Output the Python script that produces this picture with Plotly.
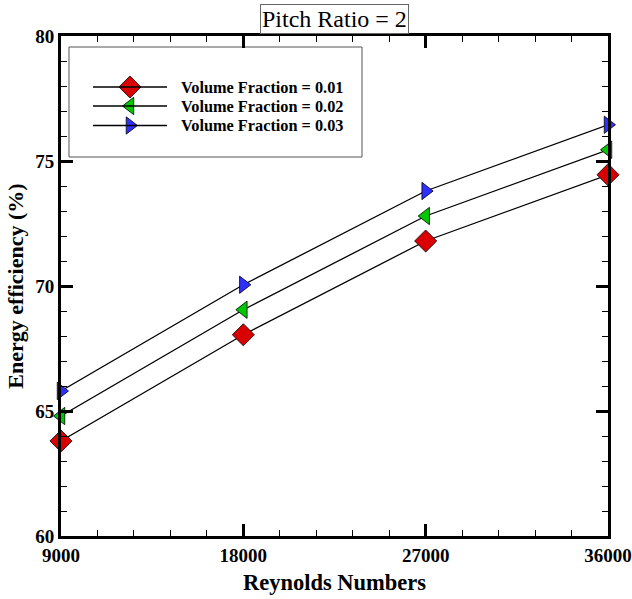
import plotly.graph_objects as go

reynolds = [9000, 18000, 27000, 36000]
vf_labels = ["Volume Fraction = 0.01", "Volume Fraction = 0.02", "Volume Fraction = 0.03"]
eff_001 = [63.8, 68.05, 71.8, 74.45]
eff_002 = [64.8, 69.05, 72.8, 75.45]
eff_003 = [65.8, 70.05, 73.8, 76.45]
x_ticks = [9000, 18000, 27000, 36000]
y_ticks = [60, 65, 70, 75, 80]

series = [eff_001, eff_002, eff_003]
colors = ["#d80000", "#00c800", "#2f2fff"]
symbols = ["diamond", "triangle-left", "triangle-right"]
sizes = [17, 15, 15]

FONT = "'Liberation Serif', 'Times New Roman', Times, serif"
fig = go.Figure()

for vals, c, s, sz, name in zip(series, colors, symbols, sizes, vf_labels):
    fig.add_trace(go.Scatter(
        x=reynolds, y=vals, mode="lines+markers", name=name, showlegend=False,
        line=dict(color="black", width=1.3),
        marker=dict(color=c, symbol=s, size=sz, line=dict(color="black", width=0.8)),
        cliponaxis=False,
    ))

# manual legend (on a hidden 0..1 overlay axis)
legend_rows = [0.898, 0.86, 0.821]
fig.add_shape(type="rect", xref="paper", yref="paper", x0=0.0146, x1=0.5503, y0=0.758, y1=0.978,
              line=dict(color="#555555", width=1), fillcolor="white", layer="below")
for row, c, s, sz, name in zip(legend_rows, colors, symbols, sizes, vf_labels):
    fig.add_shape(type="line", xref="paper", yref="paper", x0=0.0585, x1=0.1938, y0=row, y1=row,
                  line=dict(color="black", width=1.3))
    fig.add_trace(go.Scatter(
        x=[0.1261], y=[row], xaxis="x2", yaxis="y2", mode="markers", showlegend=False,
        marker=dict(color=c, symbol=s, size=sz, line=dict(color="black", width=0.8)),
        hoverinfo="skip",
    ))
    fig.add_annotation(text="<b>" + name + "</b>", xref="paper", yref="paper", x=0.2155, y=row,
                       xanchor="left", yanchor="middle", showarrow=False,
                       font=dict(family=FONT, size=16.3, color="black"))

fig.add_annotation(text="Pitch Ratio = 2", xref="paper", yref="paper", x=0.5, y=1.034,
                   xanchor="center", yanchor="middle", showarrow=False,
                   font=dict(family=FONT, size=24, color="black"),
                   bordercolor="#666666", borderwidth=1, borderpad=1, bgcolor="white")

axis_common = dict(
    showgrid=False, zeroline=False, showline=True, linecolor="black", linewidth=3,
    mirror="allticks", ticks="inside", ticklen=12, tickwidth=2.5, tickcolor="black",
    tickfont=dict(family=FONT, size=19, color="black"), automargin=False,
)

fig.update_layout(
    width=632, height=599,
    margin=dict(l=61, r=24, t=36, b=63),
    paper_bgcolor="white", plot_bgcolor="white",
    xaxis=dict(range=[9000, 36000], tickvals=x_ticks, ticktext=["<b>%d</b>" % v for v in x_ticks],
               minor=dict(dtick=1800, tick0=9000, ticks="inside", ticklen=6, tickwidth=1, tickcolor="black"),
               title=dict(text="<b>Reynolds Numbers</b>", font=dict(family=FONT, size=22.5, color="black"), standoff=10),
               **axis_common),
    yaxis=dict(range=[60, 80], tickvals=y_ticks, ticktext=["<b>%d</b>" % v for v in y_ticks],
               minor=dict(dtick=1, tick0=60, ticks="inside", ticklen=6, tickwidth=1, tickcolor="black"),
               title=dict(text="<b>Energy efficiency (%)</b>", font=dict(family=FONT, size=22, color="black"), standoff=6),
               **axis_common),
    xaxis2=dict(range=[0, 1], overlaying="x", visible=False),
    yaxis2=dict(range=[0, 1], overlaying="y", visible=False),
)

fig.write_html("out.html")
